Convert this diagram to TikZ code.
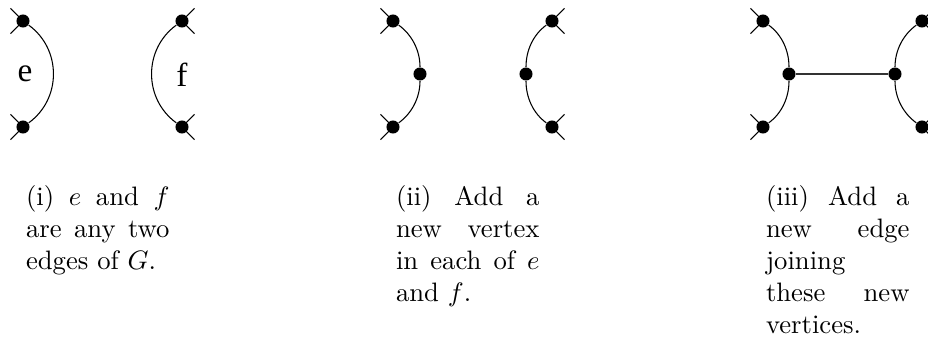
\documentclass[tikz,border=0pt]{standalone}
\usepackage{fontspec}
\newfontfamily\labelfont{Liberation Serif}
\hbadness=10000
\begin{document}
\begin{tikzpicture}[x=0.375pt,y=0.375pt,
  vtx/.style={circle,fill=black,inner sep=0pt,minimum size=4.9pt},
  edgeline/.style={line width=0.4pt},
  captext/.style={anchor=north west,inner sep=0pt,text width=53.8pt,align=justify,font=\normalsize},
  elabel/.style={inner sep=0pt,font=\labelfont\fontsize{12.5}{14}\selectfont}]
\useasboundingbox (0,0) rectangle (928,337);
\clip (0,0) rectangle (928,337);
% panel 1
\node[vtx] (a1) at (23,316) {};
\node[vtx] (b1) at (23,210) {};
\node[vtx] (c1) at (182,316) {};
\node[vtx] (d1) at (182,210) {};
% panel 2
\node[vtx] (a2) at (393,316) {};
\node[vtx] (b2) at (393,210) {};
\node[vtx] (m2) at (420,263) {};
\node[vtx] (c2) at (552,316) {};
\node[vtx] (d2) at (552,210) {};
\node[vtx] (n2) at (526,263) {};
% panel 3
\node[vtx] (a3) at (763,316) {};
\node[vtx] (b3) at (763,210) {};
\node[vtx] (m3) at (789,263) {};
\node[vtx] (c3) at (922,316) {};
\node[vtx] (d3) at (922,210) {};
\node[vtx] (n3) at (895,263) {};
% arms
\foreach \n/\x/\y/\s in {a1/23/316/-1,b1/23/210/-1,c1/182/316/1,d1/182/210/1,
  a2/393/316/-1,b2/393/210/-1,c2/552/316/1,d2/552/210/1,
  a3/763/316/-1,b3/763/210/-1,c3/922/316/1,d3/922/210/1}{
  \coordinate (\n u) at ({\x+\s*12.5},{\y+12.7});
  \coordinate (\n d) at ({\x+\s*12.5},{\y-12.7});
  \draw[edgeline] (\n.center) -- (\n u);
  \draw[edgeline] (\n.center) -- (\n d);
}
% arcs
\draw[edgeline] (a1) to[out=-36,in=36,looseness=1.07] (b1);
\draw[edgeline] (c1) to[out=-144,in=144,looseness=1.07] (d1);
\draw[edgeline] (a2) to[out=-36,in=90,looseness=0.9] (m2) to[out=-90,in=36,looseness=0.9] (b2);
\draw[edgeline] (c2) to[out=-144,in=90,looseness=0.9] (n2) to[out=-90,in=144,looseness=0.9] (d2);
\draw[edgeline] (a3) to[out=-36,in=90,looseness=0.9] (m3) to[out=-90,in=36,looseness=0.9] (b3);
\draw[edgeline] (c3) to[out=-144,in=90,looseness=0.9] (n3) to[out=-90,in=144,looseness=0.9] (d3);
\draw[line width=0.45pt,black!80] (m3) -- (n3);
% edge labels
\node[elabel,anchor=base] (le) at (25,255) {e};
\node[elabel,anchor=base] (lf) at (182,250) {f};
% captions
\node[captext] (cap1) at (25.5,152) {(i) $e$ and $f$\linebreak are any two\linebreak edges of $G$.};
\node[captext] (cap2) at (395.5,152) {(ii) Add a\linebreak new vertex\linebreak in each of $e$\linebreak and $f$.};
\node[captext] (cap3) at (765.5,152) {(iii) Add a\linebreak new edge\linebreak joining\linebreak these new\linebreak vertices.};
\end{tikzpicture}
\end{document}
